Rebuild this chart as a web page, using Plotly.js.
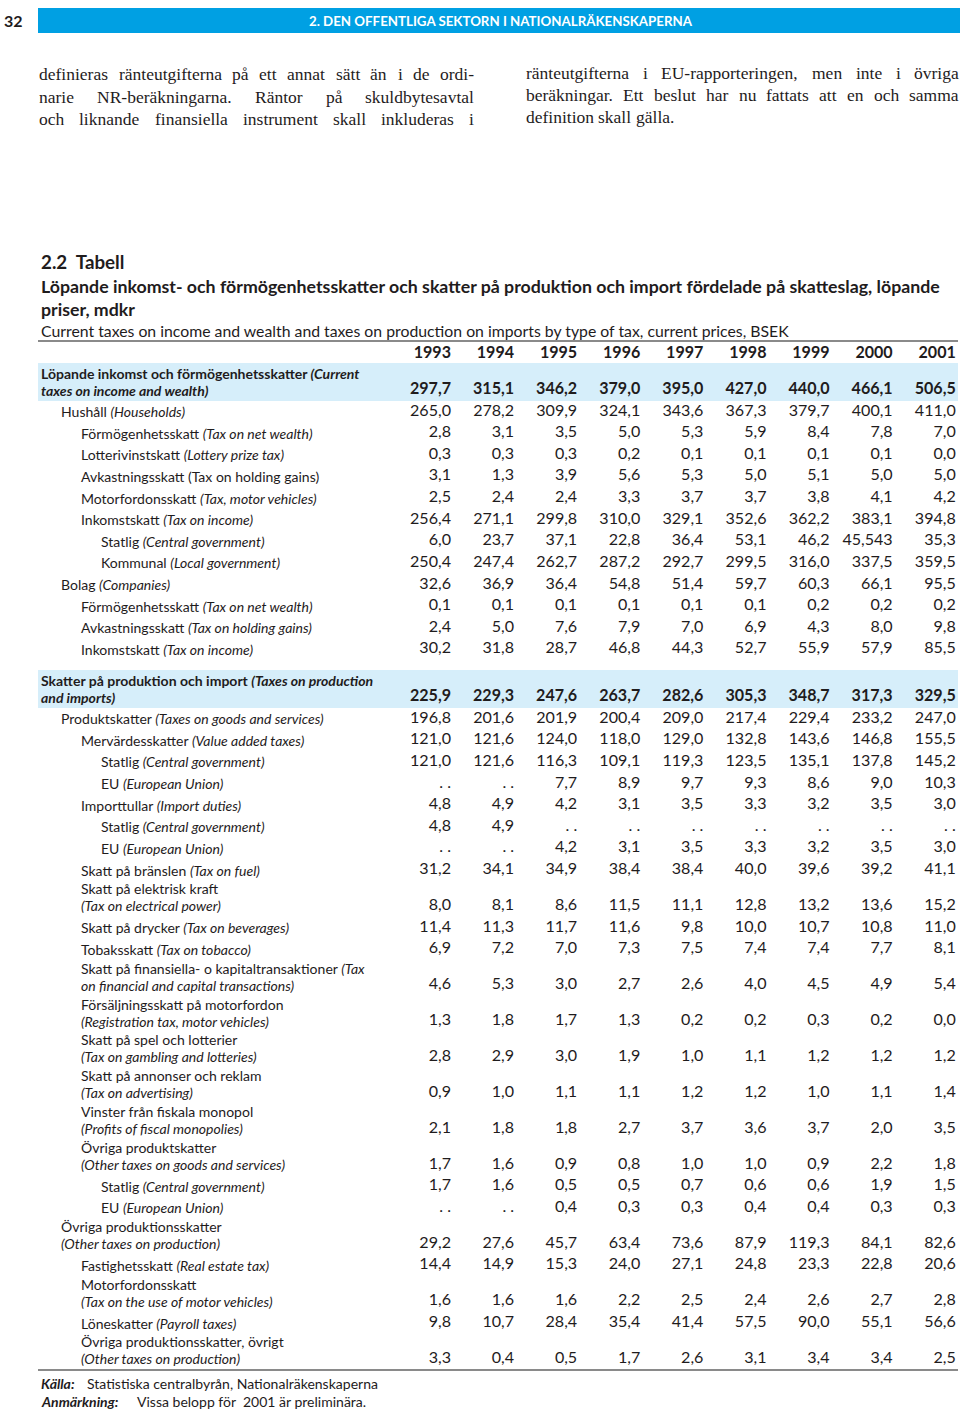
<!DOCTYPE html>
<html><head><meta charset="utf-8">
<script src="https://cdn.plot.ly/plotly-3.0.1.min.js"></script>
<style>html,body{margin:0;padding:0;background:#fff;}#chart{width:960px;height:1410px;}</style>
</head><body><div id="chart"></div>
<script>
// ---------------- DATA ----------------
const years = [1993, 1994, 1995, 1996, 1997, 1998, 1999, 2000, 2001];

// row labels ("|" separates printed lines), and indentation level
const rowLabels = [
  "<b>Löpande inkomst och förmögenhetsskatter <i>(Current</i></b>|<b><i>taxes on income and wealth)</i></b>",
  "Hushåll <i>(Households)</i>",
  "Förmögenhetsskatt <i>(Tax on net wealth)</i>",
  "Lotterivinstskatt <i>(Lottery prize tax)</i>",
  "Avkastningsskatt (Tax on holding gains)",
  "Motorfordonsskatt <i>(Tax, motor vehicles)</i>",
  "Inkomstskatt <i>(Tax on income)</i>",
  "Statlig <i>(Central government)</i>",
  "Kommunal <i>(Local government)</i>",
  "Bolag <i>(Companies)</i>",
  "Förmögenhetsskatt <i>(Tax on net wealth)</i>",
  "Avkastningsskatt <i>(Tax on holding gains)</i>",
  "Inkomstskatt <i>(Tax on income)</i>",
  "<b>Skatter på produktion och import <i>(Taxes on production</i></b>|<b><i>and imports)</i></b>",
  "Produktskatter <i>(Taxes on goods and services)</i>",
  "Mervärdesskatter <i>(Value added taxes)</i>",
  "Statlig <i>(Central government)</i>",
  "EU <i>(European Union)</i>",
  "Importtullar <i>(Import duties)</i>",
  "Statlig <i>(Central government)</i>",
  "EU <i>(European Union)</i>",
  "Skatt på bränslen <i>(Tax on fuel)</i>",
  "Skatt på elektrisk kraft|<i>(Tax on electrical power)</i>",
  "Skatt på drycker <i>(Tax on beverages)</i>",
  "Tobaksskatt <i>(Tax on tobacco)</i>",
  "Skatt på finansiella- o kapitaltransaktioner <i>(Tax</i>|<i>on financial and capital transactions)</i>",
  "Försäljningsskatt på motorfordon|<i>(Registration tax, motor vehicles)</i>",
  "Skatt på spel och lotterier|<i>(Tax on gambling and lotteries)</i>",
  "Skatt på annonser och reklam|<i>(Tax on advertising)</i>",
  "Vinster från fiskala monopol|<i>(Profits of fiscal monopolies)</i>",
  "Övriga produktskatter|<i>(Other taxes on goods and services)</i>",
  "Statlig <i>(Central government)</i>",
  "EU <i>(European Union)</i>",
  "Övriga produktionsskatter|<i>(Other taxes on production)</i>",
  "Fastighetsskatt <i>(Real estate tax)</i>",
  "Motorfordonsskatt|<i>(Tax on the use of motor vehicles)</i>",
  "Löneskatter <i>(Payroll taxes)</i>",
  "Övriga produktionsskatter, övrigt|<i>(Other taxes on production)</i>"
];
const rowLevel = [0,1,2,2,2,2,2,3,3,1,2,2,2, 0,1,2,3,3,2,3,3,2,2,2,2,2,2,2,2,2,2,3,3,1,2,2,2,2];

// values, BSEK (null = "..")
const v1993 = [297.7,265.0,2.8,0.3,3.1,2.5,256.4,6.0,250.4,32.6,0.1,2.4,30.2,225.9,196.8,121.0,121.0,null,4.8,4.8,null,31.2,8.0,11.4,6.9,4.6,1.3,2.8,0.9,2.1,1.7,1.7,null,29.2,14.4,1.6,9.8,3.3];
const v1994 = [315.1,278.2,3.1,0.3,1.3,2.4,271.1,23.7,247.4,36.9,0.1,5.0,31.8,229.3,201.6,121.6,121.6,null,4.9,4.9,null,34.1,8.1,11.3,7.2,5.3,1.8,2.9,1.0,1.8,1.6,1.6,null,27.6,14.9,1.6,10.7,0.4];
const v1995 = [346.2,309.9,3.5,0.3,3.9,2.4,299.8,37.1,262.7,36.4,0.1,7.6,28.7,247.6,201.9,124.0,116.3,7.7,4.2,null,4.2,34.9,8.6,11.7,7.0,3.0,1.7,3.0,1.1,1.8,0.9,0.5,0.4,45.7,15.3,1.6,28.4,0.5];
const v1996 = [379.0,324.1,5.0,0.2,5.6,3.3,310.0,22.8,287.2,54.8,0.1,7.9,46.8,263.7,200.4,118.0,109.1,8.9,3.1,null,3.1,38.4,11.5,11.6,7.3,2.7,1.3,1.9,1.1,2.7,0.8,0.5,0.3,63.4,24.0,2.2,35.4,1.7];
const v1997 = [395.0,343.6,5.3,0.1,5.3,3.7,329.1,36.4,292.7,51.4,0.1,7.0,44.3,282.6,209.0,129.0,119.3,9.7,3.5,null,3.5,38.4,11.1,9.8,7.5,2.6,0.2,1.0,1.2,3.7,1.0,0.7,0.3,73.6,27.1,2.5,41.4,2.6];
const v1998 = [427.0,367.3,5.9,0.1,5.0,3.7,352.6,53.1,299.5,59.7,0.1,6.9,52.7,305.3,217.4,132.8,123.5,9.3,3.3,null,3.3,40.0,12.8,10.0,7.4,4.0,0.2,1.1,1.2,3.6,1.0,0.6,0.4,87.9,24.8,2.4,57.5,3.1];
const v1999 = [440.0,379.7,8.4,0.1,5.1,3.8,362.2,46.2,316.0,60.3,0.2,4.3,55.9,348.7,229.4,143.6,135.1,8.6,3.2,null,3.2,39.6,13.2,10.7,7.4,4.5,0.3,1.2,1.0,3.7,0.9,0.6,0.4,119.3,23.3,2.6,90.0,3.4];
const v2000 = [466.1,400.1,7.8,0.1,5.0,4.1,383.1,45.543,337.5,66.1,0.2,8.0,57.9,317.3,233.2,146.8,137.8,9.0,3.5,null,3.5,39.2,13.6,10.8,7.7,4.9,0.2,1.2,1.1,2.0,2.2,1.9,0.3,84.1,22.8,2.7,55.1,3.4];
const v2001 = [506.5,411.0,7.0,0.0,5.0,4.2,394.8,35.3,359.5,95.5,0.2,9.8,85.5,329.5,247.0,155.5,145.2,10.3,3.0,null,3.0,41.1,15.2,11.0,8.1,5.4,0.0,1.2,1.4,3.5,1.8,1.5,0.3,82.6,20.6,2.8,56.6,2.5];
const columns = [v1993, v1994, v1995, v1996, v1997, v1998, v1999, v2000, v2001];

// texts
const pageNumber = "32";
const runningHead = "2. DEN OFFENTLIGA SEKTORN I NATIONALRÄKENSKAPERNA";
const paraLeft = [
  "definieras ränteutgifterna på ett annat sätt än i de ordi-",
  "narie NR-beräkningarna. Räntor på skuldbytesavtal",
  "och liknande finansiella instrument skall inkluderas i"
];
const paraRight = [
  "ränteutgifterna i EU-rapporteringen, men inte i övriga",
  "beräkningar. Ett beslut har nu fattats att en och samma",
  "definition skall gälla."
];
const tableNo = "2.2\u00a0 Tabell";
const titleLines = [
  "Löpande inkomst- och förmögenhetsskatter och skatter på produktion och import fördelade på skatteslag, löpande",
  "priser, mdkr"
];
const subtitle = "Current taxes on income and wealth and taxes on production on imports by type of tax, current prices, BSEK";
const sourceLabel = "Källa:";
const sourceText = "Statistiska centralbyrån, Nationalräkenskaperna";
const noteLabel = "Anmärkning:";
const noteText = "Vissa belopp för\u00a0 2001 är preliminära.";

// ---------------- FONTS / MEASURE ----------------
const W = 960, H = 1410;
const INK = "#1f1c1d", BLUE = "#00a0e3", BAND = "#d6eefa", RULE = "#8a8a8a";
const ctx = document.createElement("canvas").getContext("2d");
function tw(t, size, fam, weight, style) {
  ctx.font = `${style || "normal"} ${weight || "normal"} ${size}px ${fam}`;
  return ctx.measureText(t).width;
}
const NARROW = 'Lato, "Liberation Sans", sans-serif';
const SANS = NARROW;
const SERIF = '"Liberation Serif", "DejaVu Serif", serif';
function fit(parts, fam, target) {
  let tot = 0;
  for (const p of parts) tot += tw(p.t, 100, fam, p.w, p.s);
  return 100 * target / tot;
}
const labelSize = Math.min(17, fit([{t: "Förmögenhetsskatt "}, {t: "(Tax on net wealth)", s: "italic"}], NARROW, 232));
const numSize = Math.min(18, fit([{t: "250,4"}], SANS, 41));
const headSize = fit([{t: runningHead, w: "bold"}], NARROW, 384);
const tabSize = fit([{t: tableNo, w: "bold"}], NARROW, 84);
const titleSize = fit([{t: titleLines[0], w: "bold"}], NARROW, 900);
const subSize = fit([{t: subtitle}], NARROW, 749);

// ---------------- LAYOUT OF ROWS ----------------
const PITCH = 21.62, EXTRA = 14.3, GAP = 11.7, LINE = 17, FIRST = 390;
const nLines = rowLabels.map(s => s.split("|").length);
const rowY = [];
rowLabels.forEach((s, i) => {
  if (i === 0) rowY.push(FIRST);
  else rowY.push(rowY[i - 1] + PITCH + (nLines[i] - 1) * EXTRA + (rowLevel[i] === 0 ? GAP : 0));
});
const yearY = FIRST - 36;

// x axis in years: column right edges
const colRight0 = 451, colStep = 63.1;
const xr0 = years[0] - colRight0 / colStep;
const xr1 = xr0 + W / colStep;
const px = x => x / W;

function fmt(v, bold) {
  let s;
  if (v === null) s = ". .";
  else s = (Math.round(v * 10) === v * 10 ? v.toFixed(1) : String(v)).replace(".", ",");
  return bold ? "<b>" + s + "</b>" : s;
}

// ---------------- TRACES ----------------
const traces = columns.map((col, j) => ({
  type: "scatter", mode: "text",
  x: col.map(() => years[j]), y: rowY,
  text: col.map((v, i) => fmt(v, rowLevel[i] === 0)),
  textposition: "middle left",
  textfont: {family: SANS, size: numSize, color: INK},
  hoverinfo: "skip", showlegend: false, cliponaxis: false
}));
traces.push({
  type: "scatter", mode: "text",
  x: years, y: years.map(() => yearY),
  text: years.map(y => "<b>" + y + "</b>"),
  textposition: "middle left",
  textfont: {family: SANS, size: numSize, color: INK},
  hoverinfo: "skip", showlegend: false, cliponaxis: false
});

// ---------------- ANNOTATIONS ----------------
const ann = [];
function A(text, x, y, size, fam, opts) {
  ann.push(Object.assign({
    text: text, xref: "paper", x: px(x), yref: "y", y: y,
    xanchor: "left", yanchor: "middle", showarrow: false, borderpad: 0,
    font: {family: fam, size: size, color: INK}
  }, opts || {}));
}
// row labels
rowLabels.forEach((s, i) => {
  const lines = s.split("|");
  lines.forEach((ln, k) => {
    A(ln, 40 + 20 * rowLevel[i], rowY[i] - (lines.length - 1 - k) * LINE, labelSize, NARROW);
  });
});
// page head
A("<b>" + pageNumber + "</b>", 3, 20, 16, NARROW);
A("<b>" + runningHead + "</b>", 501, 21, headSize, NARROW, {xanchor: "center", font: {family: NARROW, size: headSize, color: "#ffffff"}});
// paragraphs (justified)
function para(lines, x0, x1, justifyLast) {
  let size = 17.5;
  lines.forEach((ln, i) => {
    if (i < lines.length - 1 || justifyLast) size = Math.min(size, 0.99 * fit([{t: ln}], SERIF, x1 - x0));
  });
  return size;
}
const pSize = Math.min(para(paraLeft, 38, 473, true), para(paraRight, 525, 958, false));
function placePara(lines, x0, x1, ys, justifyLast) {
  lines.forEach((ln, i) => {
    const words = ln.split(" ");
    const justify = i < lines.length - 1 || justifyLast;
    const ws = words.map(wd => tw(wd, pSize, SERIF));
    const tot = ws.reduce((a, b) => a + b, 0);
    const gap = justify && words.length > 1 ? (x1 - x0 - tot) / (words.length - 1) : tw(" ", pSize, SERIF);
    let x = x0;
    words.forEach((wd, k) => {
      A(wd, x, ys[i], pSize, SERIF);
      x += ws[k] + gap;
    });
  });
}
placePara(paraLeft, 38, 473, [74, 96.5, 119], true);
placePara(paraRight, 525, 958, [73, 95, 117], false);
// titles
A("<b>" + tableNo + "</b>", 40, 261, tabSize, NARROW);
A("<b>" + titleLines[0] + "</b>", 40, 286, titleSize, NARROW);
A("<b>" + titleLines[1] + "</b>", 40, 309, titleSize, NARROW);
A(subtitle, 40, 330, subSize, NARROW);
// footer
A("<b><i>" + sourceLabel + "</i></b>", 40, 1383, labelSize, NARROW);
A(sourceText, 86, 1383, labelSize, NARROW);
A("<b><i>" + noteLabel + "</i></b>", 40, 1401, labelSize, NARROW);
A(noteText, 136, 1401, labelSize, NARROW);

// ---------------- SHAPES ----------------
const shapes = [];
shapes.push({type: "rect", xref: "paper", yref: "y", x0: px(38), x1: 1, y0: 8, y1: 33, fillcolor: BLUE, line: {width: 0}, layer: "below"});
rowLevel.forEach((lv, i) => {
  if (lv === 0) shapes.push({type: "rect", xref: "paper", yref: "y", x0: px(38), x1: px(958),
    y0: rowY[i] - (nLines[i] - 1) * LINE - 10, y1: rowY[i] + 11, fillcolor: BAND, line: {width: 0}, layer: "below"});
});
[341, rowY[rowY.length - 1] + 11].forEach(y => shapes.push({type: "line", xref: "paper", yref: "y",
  x0: px(38), x1: px(958), y0: y, y1: y, line: {color: RULE, width: 2}}));

const layout = {
  width: W, height: H, margin: {l: 0, r: 0, t: 0, b: 0, pad: 0},
  paper_bgcolor: "#ffffff", plot_bgcolor: "#ffffff", showlegend: false,
  xaxis: {range: [xr0, xr1], visible: false, fixedrange: true},
  yaxis: {range: [H, 0], visible: false, fixedrange: true},
  annotations: ann, shapes: shapes
};
Plotly.newPlot("chart", traces, layout, {displayModeBar: false, staticPlot: true});
</script>
</body></html>
